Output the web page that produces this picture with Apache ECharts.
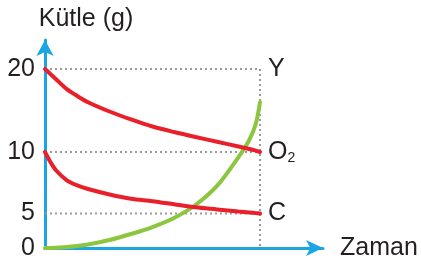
<!DOCTYPE html>
<html>
<head>
<meta charset="utf-8">
<script src="https://cdn.jsdelivr.net/npm/echarts@6/dist/echarts.min.js"></script>
<style>
  html, body { margin: 0; padding: 0; background: #fff; }
  #chart { width: 421px; height: 266px; }
</style>
</head>
<body>
<div id="chart"></div>
<script>
// zaman (birimsiz) ve kütle (g) değerleri
const time = [0, 0.25, 0.5, 1, 1.5, 2, 3, 4, 5, 6, 7, 8, 9, 9.5, 9.8, 10];
const o2Mass = [20, 19.4, 18.8, 17.6, 16.75, 16.0, 14.88, 13.92, 13.07, 12.41, 11.81, 11.24, 10.66, 10.36, 10.16, 10];
const cMass = [10, 9.19, 8.54, 7.72, 7.28, 6.99, 6.55, 6.2, 6.0, 5.75, 5.5, 5.33, 5.16, 5.08, 5.03, 5];
const yMass = [0, 0.01, 0.04, 0.14, 0.3, 0.51, 1.16, 2.03, 3.04, 4.35, 5.69, 7.24, 9.59, 11.45, 13.37, 16.0];
const massTicks = [0, 5, 10, 20];
const endTime = 10;

// the y axis in the picture is not linear: map grams onto the drawn scale
const knotG = [0, 5, 10, 20];
const knotD = [0, 34.5, 96, 179];
function warp(g) {
  for (let i = 1; i < knotG.length; i++) {
    if (g <= knotG[i]) {
      const f = (g - knotG[i - 1]) / (knotG[i] - knotG[i - 1]);
      return knotD[i - 1] + f * (knotD[i] - knotD[i - 1]);
    }
  }
  return knotD[knotD.length - 1];
}
function unwarp(d) {
  for (let i = 1; i < knotD.length; i++) {
    if (d <= knotD[i] + 0.01) {
      const f = (d - knotD[i - 1]) / (knotD[i] - knotD[i - 1]);
      return knotG[i - 1] + f * (knotG[i] - knotG[i - 1]);
    }
  }
  return knotG[knotG.length - 1];
}

const toPairs = (vals) => time.map((t, i) => [t, warp(vals[i])]);

const BLUE = "#1aa5e3";
const RED = "#e9202a";
const GREEN = "#8cc63f";
const GREY = "#9b9b9b";
const TEXT = "#231f20";
const FONT = "Liberation Sans, Arial, sans-serif";

const dotted = { color: GREY, width: 2, type: [2, 3] };

const guide = (data, label) => ({
  type: "line",
  data: data,
  showSymbol: false,
  silent: true,
  lineStyle: dotted,
  z: 1,
  endLabel: label
    ? { show: true, formatter: label, distance: 8, color: TEXT, fontSize: 25, fontFamily: FONT }
    : { show: false },
});

const curve = (name, vals, color, z) => ({
  name: name,
  type: "line",
  data: toPairs(vals),
  smooth: 0.3,
  showSymbol: false,
  lineStyle: { color: color, width: 4, cap: "round" },
  z: z,
});

const chart = echarts.init(document.getElementById("chart"));
chart.setOption({
  animation: false,
  grid: { left: 45, right: 98, top: 40, bottom: 18 },
  xAxis: {
    type: "value",
    min: 0,
    max: 12.93,
    name: "Zaman",
    nameLocation: "end",
    nameGap: 17,
    nameTextStyle: { color: TEXT, fontSize: 25, fontFamily: FONT },
    axisLine: {
      show: true,
      symbol: ["none", "arrow"],
      symbolSize: [12, 17],
      lineStyle: { color: BLUE, width: 3 },
    },
    axisTick: { show: false },
    axisLabel: { show: false },
    splitLine: { show: false },
  },
  yAxis: {
    type: "value",
    min: 0,
    max: 208,
    name: "Kütle (g)",
    nameLocation: "end",
    nameGap: 8,
    nameTextStyle: {
      color: TEXT, fontSize: 25, fontFamily: FONT,
      align: "center", padding: [0, 0, 0, 82],
    },
    axisLine: {
      show: true,
      symbol: ["none", "arrow"],
      symbolSize: [13, 16],
      lineStyle: { color: BLUE, width: 3 },
    },
    axisTick: { show: false },
    axisLabel: {
      customValues: massTicks.map(warp),
      formatter: (v) => String(Math.round(unwarp(v))),
      margin: 10,
      color: TEXT,
      fontSize: 25,
      fontFamily: FONT,
    },
    splitLine: { show: false },
  },
  series: [
    guide([[0, warp(massTicks[3])], [endTime, warp(massTicks[3])]], "Y"),
    guide([[endTime, warp(massTicks[3])], [endTime, warp(massTicks[0])]]),
    guide([[0, warp(massTicks[2])], [endTime, warp(massTicks[2])]]),
    guide([[0, warp(massTicks[1])], [endTime, warp(massTicks[1])]]),
    curve("Y", yMass, GREEN, 3),
    Object.assign(curve("O2", o2Mass, RED, 4), {
      endLabel: {
        show: true,
        formatter: "O{s|2}",
        distance: 8,
        color: TEXT,
        fontSize: 25,
        fontFamily: FONT,
        rich: { s: { fontSize: 14, fontFamily: FONT, color: TEXT, verticalAlign: "bottom", padding: [12, 0, 0, 0] } },
      },
    }),
    Object.assign(curve("C", cMass, RED, 4), {
      endLabel: { show: true, formatter: "C", distance: 8, color: TEXT, fontSize: 25, fontFamily: FONT },
    }),
  ],
});
</script>
</body>
</html>
